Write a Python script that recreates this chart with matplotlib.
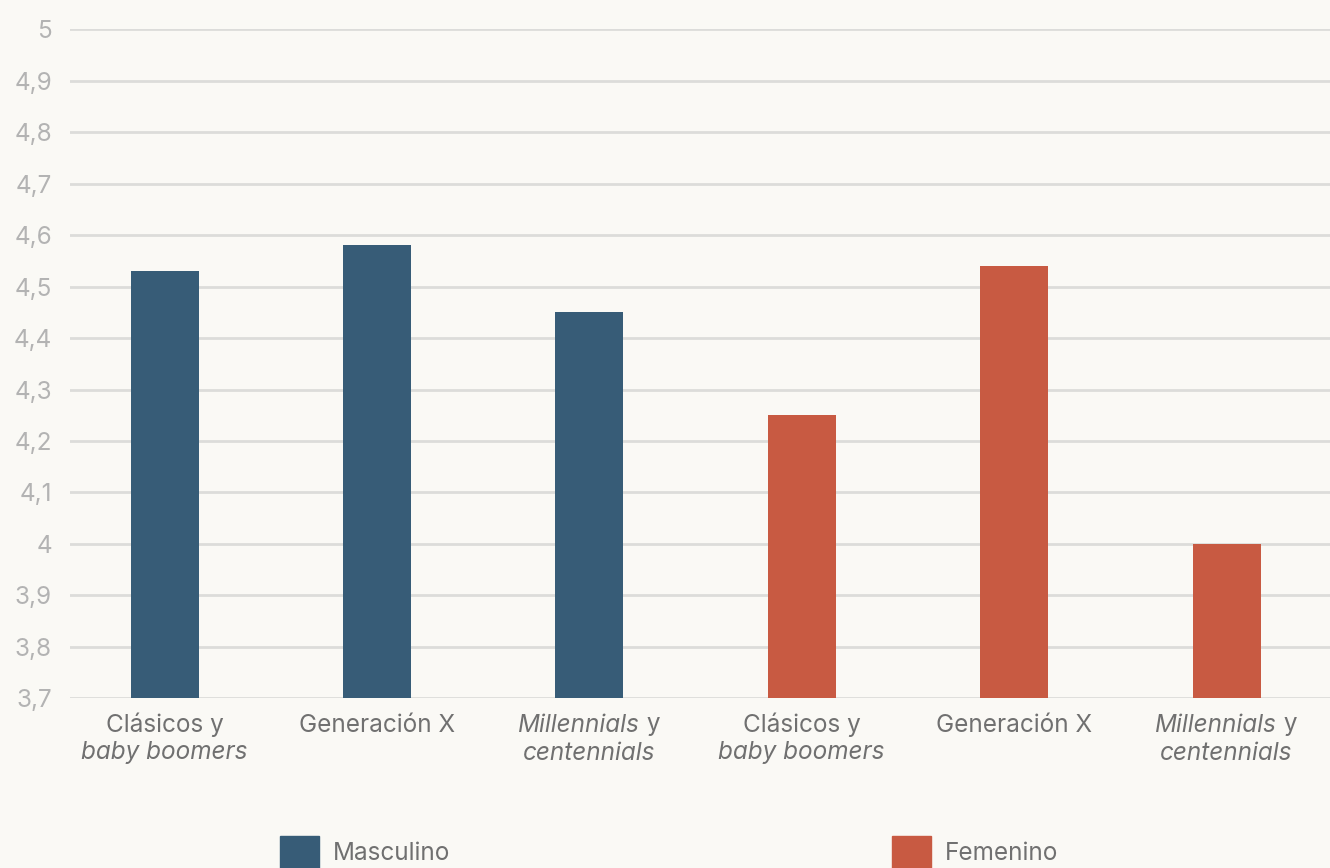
import matplotlib
matplotlib.use("Agg")
import matplotlib.pyplot as plt
from matplotlib.patches import Rectangle
from matplotlib.ticker import MultipleLocator, FuncFormatter

# Data
groups = ["Masculino", "Femenino"]
masculino = [4.53, 4.58, 4.45]
femenino = [4.25, 4.54, 4.00]
values = masculino + femenino
bar_colors = ["#375c77"] * 3 + ["#c85a42"] * 3
# Each category label: list of lines, each line a list of (text, italic)
cat_labels = [
    [[("Clásicos y", False)], [("baby boomers", True)]],
    [[("Generación X", False)]],
    [[("Millennials", True), (" y", False)], [("centennials", True)]],
    [[("Clásicos y", False)], [("baby boomers", True)]],
    [[("Generación X", False)]],
    [[("Millennials", True), (" y", False)], [("centennials", True)]],
]

BG = "#faf9f5"
GRID = "#dcdcda"
YTICK = "#b3b3b3"
XTXT = "#707070"
FONT = "Inter"
FS = 17.5

W, H = 1330, 868
fig = plt.figure(figsize=(W / 100, H / 100), dpi=100, facecolor=BG)
ax = fig.add_axes([70 / W, 1 - 698.3 / H, 1 - 70 / W, (698.3 - 29.3) / H])
ax.set_facecolor(BG)

x = list(range(len(values)))
ax.bar(x, [v - 3.7 for v in values], bottom=3.7, width=0.32, color=bar_colors, zorder=3)

ax.set_ylim(3.7, 5.0)
ax.set_xlim(-0.445, 5.487)
ax.yaxis.set_major_locator(MultipleLocator(0.1))
ax.yaxis.set_major_formatter(FuncFormatter(
    lambda v, p: (f"{v:.1f}".rstrip("0").rstrip(".")).replace(".", ",")))
ax.grid(axis="y", color=GRID, linewidth=2, zorder=0)
ax.set_xticks([])
for s in ax.spines.values():
    s.set_visible(False)
ax.tick_params(axis="y", length=0, pad=13, labelcolor=YTICK, labelsize=FS)
for t in ax.get_yticklabels():
    t.set_fontfamily(FONT)

fig.canvas.draw()
renderer = fig.canvas.get_renderer()


def part_width(txt, italic):
    t = fig.text(0, 0, txt, fontsize=FS, fontfamily=FONT,
                 fontstyle="italic" if italic else "normal")
    w = t.get_window_extent(renderer).width
    t.remove()
    return w


line_y = [725, 753]
for i, lines in enumerate(cat_labels):
    cx = ax.transData.transform((x[i], 0))[0]
    for li, parts in enumerate(lines):
        widths = [part_width(t, it) for t, it in parts]
        start = cx - sum(widths) / 2
        for (t, it), w in zip(parts, widths):
            fig.text(start / W, 1 - line_y[li] / H, t, fontsize=FS, fontfamily=FONT,
                     fontstyle="italic" if it else "normal", color=XTXT,
                     ha="left", va="center")
            start += w

# Legend drawn along the bottom edge
legend_items = [(groups[0], "#375c77", 280), (groups[1], "#c85a42", 892)]
for name, col, lx in legend_items:
    fig.patches.append(Rectangle((lx / W, 1 - 875 / H), 39 / W, 39 / H,
                                 transform=fig.transFigure, color=col, zorder=5))
    fig.text((lx + 53) / W, 1 - 853 / H, name, fontsize=FS, fontfamily=FONT,
             color=XTXT, ha="left", va="center")

fig.savefig("out.png", dpi=100, facecolor=BG)
